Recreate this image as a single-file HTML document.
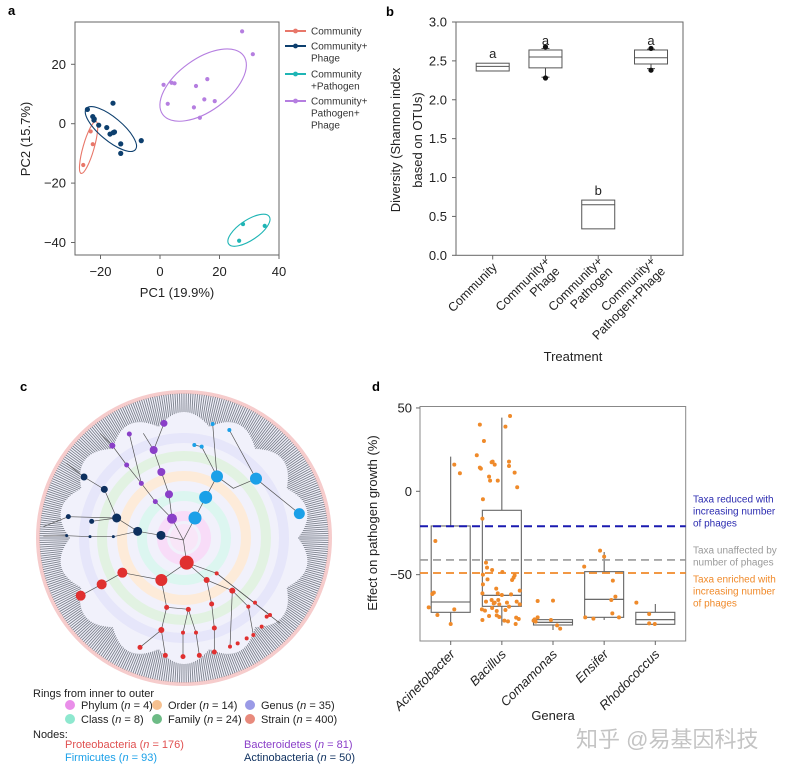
<!DOCTYPE html>
<html><head><meta charset="utf-8"><style>
html,body{margin:0;padding:0;background:#fff;}
svg{display:block;font-family:"Liberation Sans","Noto Sans CJK SC",sans-serif;}
</style></head><body>
<svg id="fig" width="789" height="770" viewBox="0 0 789 770">
<g id="pa"></g>
<g id="pb"></g>
<g id="pc"></g>
<g id="pd"></g>
<text x="576" y="747" font-size="22" fill="#c4c4c4">知乎 @易基因科技</text>
</svg>
<script>
// ---------- Panel A data ----------
const aGroups = ["Community","Community+Phage","Community+Pathogen","Community+Pathogen+Phage"];
const aColors = ["#e8776a","#0d3f6e","#1fb5b5","#b57ee0"];
const aPC1_0 = [-23.3,-22.6,-25.8];
const aPC2_0 = [-2.6,-6.9,-13.9];
const aPC1_1 = [-24.4,-22.6,-22.2,-20.6,-17.9,-16.8,-15.7,-15.3,-15.8,-13.2,-13.2,-6.3,-22.1];
const aPC2_1 = [4.8,2.4,1.2,-0.5,-1.3,-3.5,-3.0,-2.8,6.9,-6.8,-10,-5.7,1.6];
const aPC1_2 = [27.9,35.2,26.6];
const aPC2_2 = [-33.8,-34.4,-39.4];
const aPC1_3 = [27.6,31.2,1.2,3.9,4.9,12.1,15.9,2.6,14.9,18.4,11.4,13.4];
const aPC2_3 = [31.1,23.4,13.1,13.8,13.6,12.7,15.0,6.7,8.2,7.6,5.5,2.0];
const aXTicks = [-20,0,20,40];
const aYTicks = [20,0,-20,-40];
// ---------- Panel B data ----------
const bCats = [["Community"],["Community+","Phage"],["Community+","Pathogen"],["Community+","Pathogen+Phage"]];
const bQ1 = [2.37,2.41,0.34,2.46];
const bMed = [2.43,2.55,0.65,2.54];
const bQ3 = [2.47,2.64,0.71,2.64];
const bWLo = [null,2.29,null,2.40];
const bWHi = [null,2.66,null,2.65];
const bOutHi = [null,2.68,null,2.66];
const bOutLo = [null,2.28,null,2.38];
const bLetters = ["a","a","b","a"];
const bYTicks = [0,0.5,1,1.5,2,2.5,3];
// ---------- Panel D data ----------
const dCats = ["Acinetobacter","Bacillus","Comamonas","Ensifer","Rhodococcus"];
const dQ1 = [-72.6,-69,-80.2,-75.6,-79.8];
const dMed = [-66.4,-62.4,-78.6,-64.8,-77];
const dQ3 = [-20.8,-11.4,-77,-48.2,-72.6];
const dWLo = [-79.6,-80.6,-83.2,-77.2,-79.8];
const dWHi = [20.8,44.2,-77,-36.4,-67.6];
const dYTicks = [50,0,-50];
const dRefVals = [-21,-41.2,-49];
const dVal0 = [16,10.8,-29.8,-69.6,-61.6,-60.8,-74.2,-70.8,-79.6];
const dJit0 = [0.07,0.18,-0.3,-0.43,-0.36,-0.33,-0.26,0.07,0];
const dVal1 = [40,30.2,21.6,14.2,13.6,17.4,17.8,16,8.8,6.4,6.4,38.8,45.2,17.8,15.2,11.2,2.4,-4.8,-16.4,-42.8,-45.8,-47.2,-48.4,-50,-52.8,-55.8,-50.4,-51.8,-53.2,-58.4,-59.6,-61.2,-61.2,-62.2,-61.8,-66.2,-65.2,-66.8,-67.8,-66.8,-66.2,-67.8,-70.8,-71.6,-70,-71.8,-71.2,-69.2,-74.8,-74.4,-75.4,-77.2,-77.6,-78,-75.8,-76.6,-79.6,-67.2,-65.2];
const dJit1 = [-0.43,-0.35,-0.49,-0.43,-0.41,-0.2,-0.18,-0.14,-0.25,-0.23,-0.08,0.07,0.16,0.14,0.14,0.25,0.3,-0.37,-0.38,-0.31,-0.29,-0.19,0.01,-0.37,-0.28,-0.37,0.25,0.23,0.2,-0.11,0.35,-0.38,-0.08,0,0.18,-0.31,-0.2,-0.14,-0.05,0.1,0.29,0.35,-0.39,-0.33,-0.19,-0.1,0.07,0.14,-0.25,-0.1,-0.05,-0.38,0.05,0.12,0.28,0.33,0.27,-0.16,-0.07];
const dVal2 = [-65.8,-65.6,-77.6,-78.2,-75.6,-77.2,-80.4,-82.4,-76.8];
const dJit2 = [-0.3,0,-0.38,-0.34,-0.3,-0.04,0.08,0.14,-0.36];
const dVal3 = [-35.6,-39.2,-45.2,-53.6,-63.2,-65.2,-73.2,-75.6,-76.4,-75.6];
const dJit3 = [-0.08,0,-0.39,0.17,0.22,0.14,0.16,-0.37,-0.21,0.29];
const dVal4 = [-66.8,-73.6,-79.2,-79.6];
const dJit4 = [-0.37,-0.12,-0.12,-0.01];

const NS="http://www.w3.org/2000/svg";
function mk(parent,tag,attrs,txt){const e=document.createElementNS(NS,tag);for(const k in attrs)e.setAttribute(k,attrs[k]);if(txt!==undefined)e.textContent=txt;parent.appendChild(e);return e;}

// ================= PANEL A =================
(function(){
const g=document.getElementById('pa');
const ax=v=>160+v*2.975, ay=v=>123.7-v*2.97;
let t=mk(g,'text',{x:8,y:15,'font-size':13,'font-weight':'bold'},'a');


let r=mk(g,'rect',{x:75,y:22,width:204,height:233,fill:'none',stroke:'#666','stroke-width':1});


aXTicks.forEach(v=>{mk(g,'line',{x1:ax(v),x2:ax(v),y1:255,y2:259,stroke:'#666'});
 const l=mk(g,'text',{x:ax(v),y:276,'font-size':13,'text-anchor':'middle',fill:'#222'},v<0?'\u2212'+(-v):v);
 
 });
aYTicks.forEach(v=>{mk(g,'line',{x1:71,x2:75,y1:ay(v),y2:ay(v),stroke:'#666'});
 const l=mk(g,'text',{x:66,y:ay(v)+4.5,'font-size':13,'text-anchor':'end',fill:'#222'},v<0?'\u2212'+(-v):v);
 
 });
t=mk(g,'text',{x:177,y:297,'font-size':13,'text-anchor':'middle',fill:'#222'},'PC1 (19.9%)');


t=mk(g,'text',{x:0,y:0,'font-size':13,'text-anchor':'middle',fill:'#222',transform:'translate(30,139) rotate(-90)'},'PC2 (15.7%)');


const ell=[[0,27,5.5,106],[1,32,11.5,40],[2,24.5,10,-34],[3,50,26,-36]];
const xs=[aPC1_0,aPC1_1,aPC1_2,aPC1_3], ys=[aPC2_0,aPC2_1,aPC2_2,aPC2_3];
ell.forEach(e=>{const gi=e[0];const mx=xs[gi].reduce((a,b)=>a+b)/xs[gi].length,my=ys[gi].reduce((a,b)=>a+b)/ys[gi].length;
 let cx=ax(mx),cy=ay(my); if(gi===3){cx=ax(14.5);cy=ay(13);} if(gi===1){cx=ax(-16.5);cy=ay(-1.8);} if(gi===0){cx=ax(-24);cy=ay(-8);}
 const el=mk(g,'ellipse',{cx:0,cy:0,rx:e[1],ry:e[2],fill:'none',stroke:aColors[gi],'stroke-width':1.1,transform:`translate(${cx},${cy}) rotate(${e[3]})`});
 
 });
xs.forEach((arr,gi)=>arr.forEach((v,i)=>{const c=mk(g,'circle',{cx:ax(v),cy:ay(ys[gi][i]),r:gi===1?2.6:2.1,fill:aColors[gi]});
 
 }));
const leg=[[31,["Community"]],[46,["Community+","Phage"]],[74,["Community","+Pathogen"]],[101,["Community+","Pathogen+","Phage"]]];
leg.forEach((L,gi)=>{const y=L[0];
 const lg=mk(g,'g',{});
 
 
 mk(lg,'line',{x1:285,x2:306,y1:y,y2:y,stroke:aColors[gi],'stroke-width':2});
 mk(lg,'circle',{cx:295.5,cy:y,r:2.4,fill:aColors[gi]});
 L[1].forEach((s,j)=>mk(lg,'text',{x:311,y:y+3.5+j*12,'font-size':10,fill:'#333'},s));});
})();

// ================= PANEL B =================
(function(){
const g=document.getElementById('pb');
const bx=i=>492.7+i*52.77, by=v=>255.3-v*77.77, hw=16.5;
let t=mk(g,'text',{x:386,y:16,'font-size':13,'font-weight':'bold'},'b');


let r=mk(g,'rect',{x:456,y:22,width:227,height:233.3,fill:'none',stroke:'#666'});


bYTicks.forEach(v=>{mk(g,'line',{x1:452,x2:456,y1:by(v),y2:by(v),stroke:'#666'});
 const l=mk(g,'text',{x:447,y:by(v)+4.5,'font-size':13,'text-anchor':'end',fill:'#222'},v.toFixed(1));
 
 });
bCats.forEach((c,i)=>{const x=bx(i);
 mk(g,'line',{x1:x,x2:x,y1:255.3,y2:259.5,stroke:'#666'});
 const bg=mk(g,'g',{});
 
 
 if(bWLo[i]!==null){mk(bg,'line',{x1:x,x2:x,y1:by(bWLo[i]),y2:by(bQ1[i]),stroke:'#444'});mk(bg,'line',{x1:x-4,x2:x+4,y1:by(bWLo[i]),y2:by(bWLo[i]),stroke:'#444'});}
 if(bWHi[i]!==null){mk(bg,'line',{x1:x,x2:x,y1:by(bWHi[i]),y2:by(bQ3[i]),stroke:'#444'});mk(bg,'line',{x1:x-4,x2:x+4,y1:by(bWHi[i]),y2:by(bWHi[i]),stroke:'#444'});}
 mk(bg,'rect',{x:x-hw,y:by(bQ3[i]),width:hw*2,height:by(bQ1[i])-by(bQ3[i]),fill:'#fff',stroke:'#555'});
 mk(bg,'line',{x1:x-hw,x2:x+hw,y1:by(bMed[i]),y2:by(bMed[i]),stroke:'#555'});
 if(bOutHi[i]!==null)mk(bg,'circle',{cx:x,cy:by(bOutHi[i]),r:2.6,fill:'#111'});
 if(bOutLo[i]!==null)mk(bg,'circle',{cx:x,cy:by(bOutLo[i]),r:2.6,fill:'#111'});
 const lt=mk(g,'text',{x:x,y:by(bQ3[i])-5,'font-size':13,'text-anchor':'middle',fill:'#222'},bLetters[i]);
 
 
 const tl=mk(g,'text',{'font-size':12.5,'text-anchor':'end',fill:'#222',transform:`translate(${x+5},${c.length>1?262:268}) rotate(-45)`});
 
 
 c.forEach((s,j)=>mk(tl,'tspan',{x:0,y:j*14},s));});
t=mk(g,'text',{x:573,y:361,'font-size':13,'text-anchor':'middle',fill:'#222'},'Treatment');


t=mk(g,'text',{'font-size':13,'text-anchor':'middle',fill:'#222',transform:'translate(400,140) rotate(-90)'});


mk(t,'tspan',{x:0,y:0},'Diversity (Shannon index');
mk(t,'tspan',{x:0,y:22},'based on OTUs)');
})();

// ================= PANEL C =================
(function(){
const g=document.getElementById('pc');
const cx=184,cy=538;
let t=mk(g,'text',{x:20,y:391,'font-size':13,'font-weight':'bold'},'c');


mk(g,'circle',{cx,cy,r:146,fill:'#f1f1fb',stroke:'#f6cccc','stroke-width':4});
const ringCols=['#f8dcf8','#dcf6f0','#fdebd9','#e2f2e2','#e6e6fa','#fbe4e2'];
[22,42,62,82,100].forEach((rr,i)=>mk(g,'circle',{cx,cy,r:rr,fill:'none',stroke:ringCols[i],'stroke-width':10}));
mk(g,'circle',{cx,cy,r:14,fill:'#f8e6f8'});
const band=mk(g,'g',{stroke:'#7c818c','stroke-width':0.9});


for(let k=0;k<400;k++){const a=k/400*2*Math.PI;const r1=114+12*Math.abs(Math.sin(a*7)),r2=144.5;
 mk(band,'line',{x1:cx+r1*Math.cos(a),y1:cy+r1*Math.sin(a),x2:cx+r2*Math.cos(a),y2:cy+r2*Math.sin(a)});}
const z=(p)=>[p[0]/3,380+p[1]/3];
const clades=[
 {col:'#8a3fc8',paths:[[[550,480],[516,416],[507,343],[484,276],[461,210],[492,130]],[[516,416],[466,365],[424,310],[380,255],[337,197],[300,160]],[[424,310],[388,162]],[[461,210],[430,160]]],nodes:[[516,416,5],[507,343,4],[484,276,4],[461,210,4],[492,130,3.5],[466,365,2.5],[424,310,2.5],[380,255,2.5],[337,197,3],[388,162,2.5]]},
 {col:'#1ba0e8',paths:[[[550,480],[585,414],[617,352],[651,289],[605,200],[583,195]],[[651,289],[638,132]],[[651,289],[700,325],[768,296],[898,401]],[[768,296],[688,150]]],nodes:[[585,414,6.5],[617,352,6.5],[651,289,6],[768,296,6],[898,401,5.5],[605,200,2],[638,132,2],[688,150,2],[583,195,2]]},
 {col:'#0d2f5e',paths:[[[550,480],[483,466],[413,454],[350,414],[313,328],[252,291],[200,250]],[[350,414],[205,410],[130,440]],[[413,454],[340,470],[270,470],[200,467],[130,468]],[[350,414],[275,424]]],nodes:[[483,466,4.5],[413,454,4.5],[350,414,4.5],[313,328,3.5],[252,291,3.5],[275,424,2.5],[205,410,2.5],[200,467,1.5],[270,470,1.5],[340,470,1.5]]},
 {col:'#e03030',paths:[[[550,480],[560,548],[484,600],[367,578],[305,613],[242,647]],[[484,600],[500,682],[484,750],[420,802]],[[484,750],[496,826]],[[500,682],[565,688],[549,758],[549,830]],[[565,688],[588,758],[598,826]],[[560,548],[620,600],[635,672],[643,744],[643,816]],[[620,600],[697,632],[745,680],[760,765]],[[560,548],[650,580],[810,705]],[[697,632],[690,800]],[[650,580],[840,730]]],nodes:[[560,548,7],[484,600,6],[367,578,5],[305,613,5],[242,647,5],[500,682,2.5],[565,688,2.5],[484,750,3],[420,802,2.5],[496,826,2.5],[549,830,2.5],[598,826,2.5],[643,816,2.5],[549,758,2],[588,758,2],[635,672,2.5],[643,744,2.5],[620,600,3],[650,580,2],[697,632,3],[745,680,2],[690,800,2],[713,790,2],[740,775,2],[760,765,2],[785,740,2],[810,705,2],[765,668,2],[800,710,2]]}
];
clades.forEach((c,ci)=>{const cg=mk(g,'g',{});
 
 
 c.paths.forEach(p=>mk(cg,'polyline',{points:p.map(q=>z(q).join(',')).join(' '),fill:'none',stroke:'#555','stroke-width':0.7}));
 c.nodes.forEach(n=>{const [x,y]=z(n);mk(cg,'circle',{cx:x,cy:y,r:n[2],fill:c.col});});});
t=mk(g,'text',{x:33,y:697,'font-size':11,fill:'#222'},'Rings from inner to outer');


const rl=[[70,709,'#e98ee9','Phylum (','4'],[157,709,'#f6c08f','Order (','14'],[250,709,'#9a9ae6','Genus (','35'],[70,723,'#8ee8cf','Class (','8'],[157,723,'#6dbb86','Family (','24'],[250,723,'#e88a7c','Strain (','400']];
rl.forEach(L=>{const lg=mk(g,'g',{});
 
 
 mk(lg,'circle',{cx:L[0],cy:L[1]-4,r:5,fill:L[2]});
 const tx=mk(lg,'text',{x:L[0]+11,y:L[1],'font-size':11,fill:'#222'});
 mk(tx,'tspan',{},L[3]);mk(tx,'tspan',{'font-style':'italic'},'n');mk(tx,'tspan',{},' = '+L[4]+')');});
t=mk(g,'text',{x:33,y:738,'font-size':11,fill:'#222'},'Nodes:');


[[65,748,'#e05050','Proteobacteria','176'],[65,761,'#1ba0e8','Firmicutes','93'],[244,748,'#8a3fc8','Bacteroidetes','81'],[244,761,'#0d2f5e','Actinobacteria','50']].forEach(L=>{
 const tx=mk(g,'text',{x:L[0],y:L[1],'font-size':11,fill:L[2]});
 
 
 mk(tx,'tspan',{},L[3]+' (');mk(tx,'tspan',{'font-style':'italic'},'n');mk(tx,'tspan',{},' = '+L[4]+')');});
})();

// ================= PANEL D =================
(function(){
const g=document.getElementById('pd');
const dx=i=>450.7+i*51.15, dy=v=>491.3-v*1.667, hw=19.5;
let t=mk(g,'text',{x:372,y:391,'font-size':13,'font-weight':'bold'},'d');


let r=mk(g,'rect',{x:420,y:406.5,width:265.7,height:234.5,fill:'none',stroke:'#888'});


dYTicks.forEach(v=>{mk(g,'line',{x1:416,x2:420,y1:dy(v),y2:dy(v),stroke:'#666'});
 const l=mk(g,'text',{x:412,y:dy(v)+4.5,'font-size':13,'text-anchor':'end',fill:'#222'},v<0?'\u2212'+(-v):v);
 
 });
dCats.forEach((c,i)=>{const x=dx(i);
 mk(g,'line',{x1:x,x2:x,y1:641,y2:645,stroke:'#666'});
 const bg=mk(g,'g',{});
 
 
 mk(bg,'line',{x1:x,x2:x,y1:dy(dWHi[i]),y2:dy(dQ3[i]),stroke:'#555'});
 mk(bg,'line',{x1:x,x2:x,y1:dy(dWLo[i]),y2:dy(dQ1[i]),stroke:'#555'});
 mk(bg,'rect',{x:x-hw,y:dy(dQ3[i]),width:hw*2,height:dy(dQ1[i])-dy(dQ3[i]),fill:'none',stroke:'#666','stroke-width':1.1});
 mk(bg,'line',{x1:x-hw,x2:x+hw,y1:dy(dMed[i]),y2:dy(dMed[i]),stroke:'#555','stroke-width':1.1});
 const tl=mk(g,'text',{x:0,y:0,'font-size':13,'font-style':'italic','text-anchor':'end',fill:'#222',transform:`translate(${x+5},${655}) rotate(-45)`},c);
 
 });
const refCols=['#1a1ab0','#9a9a9a','#f08a2a'],refW=[2,1.6,1.8];
dRefVals.forEach((v,i)=>{const l=mk(g,'line',{x1:420,x2:685.7,y1:dy(v),y2:dy(v),stroke:refCols[i],'stroke-width':refW[i],'stroke-dasharray':'8,5'});
 
 });
const vals=[dVal0,dVal1,dVal2,dVal3,dVal4], jits=[dJit0,dJit1,dJit2,dJit3,dJit4];
vals.forEach((arr,ci)=>arr.forEach((v,k)=>{const j=jits[ci][k]||0;
 const c=mk(g,'circle',{cx:dx(ci)+j*51.15,cy:dy(v),r:2,fill:'#ef8a2a'});
 
 }));
const notes=[[499,'#2b2bb0',['Taxa reduced with','increasing number','of phages']],[550,'#9a9a9a',['Taxa unaffected by','number of phages']],[579,'#f08a2a',['Taxa enriched with','increasing number','of phages']]];
notes.forEach(N=>{const tx=mk(g,'text',{'font-size':10,fill:N[1]});
 
 
 N[2].forEach((s,j)=>mk(tx,'tspan',{x:693,y:N[0]+3.5+j*12},s));});
t=mk(g,'text',{x:553,y:720,'font-size':13,'text-anchor':'middle',fill:'#222'},'Genera');


t=mk(g,'text',{x:0,y:0,'font-size':13,'text-anchor':'middle',fill:'#222',transform:'translate(377,523) rotate(-90)'},'Effect on pathogen growth (%)');


})();
</script>
</body></html>
